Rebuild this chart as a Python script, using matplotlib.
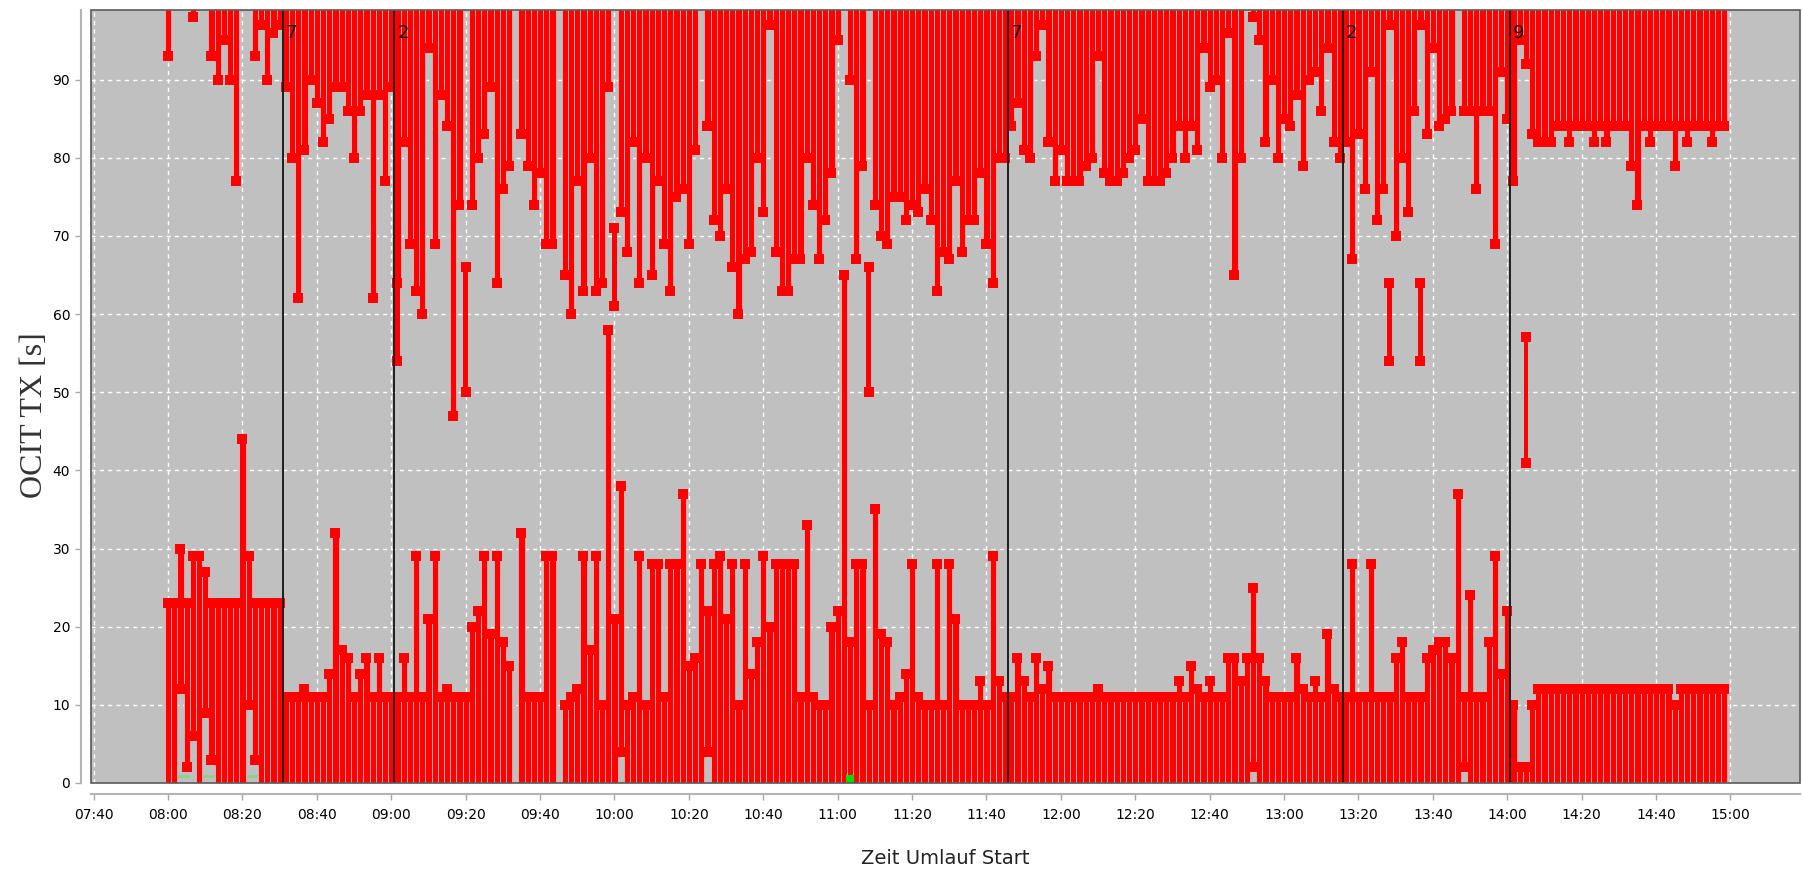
import matplotlib
matplotlib.use("Agg")
import matplotlib.pyplot as plt
from matplotlib import font_manager
from matplotlib.patches import Rectangle
import numpy as np

N = None

# ---------------- data ----------------
first_cycle = "08:00"          # start of first cycle
cycle_seconds = 100            # cycle length

# top of the lower red interval (starts at 0 unless listed in low_bottom)
low_top = [
    23, 23, 30, 23, 29, 29, 27, 23, 23, 23,
    23, 23, 44, 29, 23, 23, 23, 23, 23, 11,
    11, 11, 12, 11, 11, 11, 14, 32, 17, 16,
    11, 14, 16, 11, 16, 11, 11, 11, 16, 11,
    29, 11, 21, 29, 11, 12, 11, 11, 11, 20,
    22, 29, 19, 29, 18, 15, 0, 32, 11, 11,
    11, 29, 29, 0, 10, 11, 12, 29, 17, 29,
    10, 58, 21, 38, 10, 11, 29, 10, 28, 28,
    11, 28, 28, 37, 15, 16, 28, 22, 28, 29,
    21, 28, 10, 28, 14, 18, 29, 20, 28, 28,
    28, 28, 11, 33, 11, 10, 10, 20, 22, 65,
    18, 28, 28, 10, 35, 19, 18, 10, 11, 14,
    28, 11, 10, 10, 28, 10, 28, 21, 10, 10,
    10, 13, 10, 29, 13, 11, 11, 16, 13, 11,
    16, 12, 15, 11, 11, 11, 11, 11, 11, 11,
    12, 11, 11, 11, 11, 11, 11, 11, 11, 11,
    11, 11, 11, 13, 11, 15, 12, 11, 13, 11,
    11, 16, 16, 13, 16, 25, 16, 13, 11, 11,
    11, 11, 16, 12, 11, 13, 11, 19, 12, 11,
    11, 28, 11, 11, 28, 11, 11, 11, 16, 18,
    11, 11, 11, 16, 17, 18, 18, 16, 37, 11,
    24, 11, 11, 18, 29, 14, 22, 10, 2, 2,
    10, 12, 12, 12, 12, 12, 12, 12, 12, 12,
    12, 12, 12, 12, 12, 12, 12, 12, 12, 12,
    12, 12, 12, 10, 12, 12, 12, 12, 12, 12,
    12, 12,
]

# cycles whose lower interval does not start at 0
low_bottom = {2: 12, 3: 2, 4: 6, 6: 9, 7: 3, 13: 10, 14: 3,
              73: 4, 87: 4, 175: 2, 209: 2}

# bottom of the upper red interval (runs to the cycle end)
high_bottom = [
    93, N, N, N, 98, N, N, 93, 90, 95,
    90, 77, N, N, 93, 97, 90, 96, 97, 89,
    80, 62, 81, 90, 87, 82, 85, 89, 89, 86,
    80, 86, 88, 62, 88, 77, 89, 64, 82, 69,
    63, 60, 94, 69, 88, 84, 47, 74, N, 74,
    80, 83, 89, 64, 76, 79, N, 83, 79, 74,
    78, 69, 69, N, 65, 60, 77, 63, 80, 63,
    64, 89, N, 73, 68, 82, 64, 80, 65, 77,
    69, 63, 75, 76, 69, 81, N, 84, 72, 70,
    76, 66, 60, 67, 68, 80, 73, 97, 68, 63,
    63, 67, 67, 80, 74, 67, 72, 78, 95, N,
    90, 67, 79, N, 74, 70, 69, 75, 75, 72,
    74, 73, 76, 72, 63, 68, 67, 77, 68, 72,
    72, 78, 69, 64, 80, 80, 84, 87, 81, 80,
    93, 97, 82, 77, 81, 77, 77, 77, 79, 80,
    93, 78, 77, 77, 78, 80, 81, 85, 77, 77,
    77, 78, 80, 84, 80, 84, 81, 94, 89, 90,
    80, 96, 65, 80, N, 98, 95, 82, 90, 80,
    85, 84, 88, 79, 90, 91, 86, 94, 82, 80,
    82, 67, 83, 76, 91, 72, 76, 97, 70, 80,
    73, 86, 97, 83, 94, 84, 85, 86, N, 86,
    86, 76, 86, 86, 69, 91, 85, 77, 95, 92,
    83, 82, 82, 82, 84, 84, 82, 84, 84, 84,
    82, 84, 82, 84, 84, 84, 79, 74, 84, 82,
    84, 84, 84, 79, 84, 82, 84, 84, 84, 82,
    84, 84,
]

# isolated red intervals inside a cycle: (cycle index, from, to)
mid_ranges = [(37, 54, 64), (48, 50, 66), (72, 61, 71), (113, 50, 66),
              (197, 54, 64), (202, 54, 64), (219, 41, 57)]

# green markers near zero
green_strips = [(1, 4), (5, 8), (12, 15)]   # cycle index ranges (faint)
green_points = [110]                        # bright green square

# program changes (time, program number)
program_changes = [("08:30:48", "7"), ("09:00:48", "2"), ("11:45:42", "7"),
                   ("13:15:48", "2"), ("14:00:48", "9")]

x_ticklabels = ["07:40", "08:00", "08:20", "08:40", "09:00", "09:20", "09:40",
                "10:00", "10:20", "10:40", "11:00", "11:20", "11:40", "12:00",
                "12:20", "12:40", "13:00", "13:20", "13:40", "14:00", "14:20",
                "14:40", "15:00"]
y_ticks = [0, 10, 20, 30, 40, 50, 60, 70, 80, 90]

x_title = "Zeit Umlauf Start"
y_title = "OCIT TX [s]"


def to_min(s):
    parts = [float(p) for p in s.split(":")]
    m = parts[0] * 60 + parts[1]
    if len(parts) > 2:
        m += parts[2] / 60.0
    return m


# ---------------- style ----------------
RED = "#ff0000"
SEP = "#ffb0b0"
BG = "#c0c0c0"
YTOP = 98.9

avail = {f.name for f in font_manager.fontManager.ttflist}
if "Liberation Sans Narrow" in avail:
    tick_font, xt_size, yt_size, lab_size = "Liberation Sans Narrow", 17, 18.5, 19
else:
    tick_font, xt_size, yt_size, lab_size = "DejaVu Sans", 13.5, 14.5, 14
serif_font = "Liberation Serif" if "Liberation Serif" in avail else "DejaVu Serif"

W, H = 1803, 875
fig = plt.figure(figsize=(W / 100, H / 100), dpi=100)
fig.patch.set_facecolor("white")
ax = fig.add_axes([91 / W, 92 / H, (1800 - 91) / W, (783 - 10) / H])
ax.set_facecolor(BG)

t0 = to_min(first_cycle)
step = cycle_seconds / 60.0
n = len(low_top)
idx = np.arange(n)
t = t0 + idx * step

ax.set_xlim(459.3, 918.7)
ax.set_ylim(0, YTOP)

# grid
xt = [to_min(s) for s in x_ticklabels]
for x in xt:
    ax.axvline(x, color="white", lw=1.0, ls=(0, (3, 3)), zorder=1)
for y in y_ticks[1:]:
    ax.axhline(y, color="white", lw=1.0, ls=(0, (3, 3)), zorder=1)

# faint green strips
for a, b in green_strips:
    ax.plot([t[a] - step / 2, t[b - 1] + step / 2], [0.9, 0.9], color="#8fd08f",
            lw=2.2, solid_capstyle="butt", zorder=2)

ms = 6.8
# lower intervals
lo = np.array([low_bottom.get(i, 0) for i in idx], float)
hi = np.array(low_top, float)
m = hi > lo
ax.bar(t[m], hi[m] - lo[m], bottom=lo[m], width=step, color=RED,
       edgecolor=SEP, linewidth=0.6, zorder=3)

# upper intervals
hb = np.array([np.nan if v is None else v for v in high_bottom], float)
mu = ~np.isnan(hb)
ax.bar(t[mu], YTOP + 10 - hb[mu], bottom=hb[mu], width=step, color=RED,
       edgecolor=SEP, linewidth=0.6, zorder=3)

# middle intervals
mi = np.array([r[0] for r in mid_ranges])
mlo = np.array([r[1] for r in mid_ranges], float)
mhi = np.array([r[2] for r in mid_ranges], float)
ax.bar(t[mi], mhi - mlo, bottom=mlo, width=step * 0.75, color=RED,
       linewidth=0, zorder=3)

# square markers
ax.plot(t[m], hi[m], "s", color=RED, ms=ms, mew=0, zorder=4)
ml = lo > 0
ax.plot(t[ml], lo[ml], "s", color=RED, ms=ms, mew=0, zorder=4)
ax.plot(t[mu], hb[mu], "s", color=RED, ms=ms, mew=0, zorder=4)
ax.plot(t[mi], mlo, "s", color=RED, ms=ms, mew=0, zorder=4)
ax.plot(t[mi], mhi, "s", color=RED, ms=ms, mew=0, zorder=4)

# bright green point
gp = np.array(green_points)
ax.plot(t[gp], [0.5] * len(gp), "s", color="#00e000", ms=5.8, mew=0, zorder=5)

# program changes
for s, lab in program_changes:
    x = to_min(s)
    ax.axvline(x, color="#1e1e1e", lw=1.4, zorder=6)
    ax.text(x + 0.8, 96.0, lab, fontsize=13, color="#111111", ha="left",
            va="center", zorder=7)

# axes / ticks
ax.set_xticks(xt)
ax.set_xticklabels(x_ticklabels, fontfamily=tick_font, fontsize=xt_size,
                   color="#333333")
ax.set_yticks(y_ticks)
ax.set_yticklabels([str(v) for v in y_ticks], fontfamily=tick_font,
                   fontsize=yt_size, color="#444444")
ax.tick_params(axis="x", length=4, width=1, color="#a8a8a8", pad=6)
ax.tick_params(axis="y", length=4, width=1, color="#a8a8a8", pad=4)

for side in ("top", "right"):
    ax.spines[side].set_visible(False)
ax.spines["left"].set_position(("outward", 7))
ax.spines["bottom"].set_position(("outward", 8))
for side in ("left", "bottom"):
    ax.spines[side].set_color("#b4b4b4")
    ax.spines[side].set_linewidth(1.5)

ax.add_patch(Rectangle((0, 0), 1, 1, transform=ax.transAxes, fill=False,
                       edgecolor="#5a5a5a", lw=1.2, zorder=10, clip_on=False))

# axis titles
fig.text(945 / W, 1 - 859 / H, x_title, fontfamily=tick_font,
         fontsize=lab_size, color="#222222", ha="center", va="center")
fig.text(35 / W, 1 - 415 / H, y_title, fontfamily=serif_font, fontsize=23,
         color="#333333", ha="center", va="center", rotation=90)

fig.savefig("out.png", dpi=100, facecolor="white")
